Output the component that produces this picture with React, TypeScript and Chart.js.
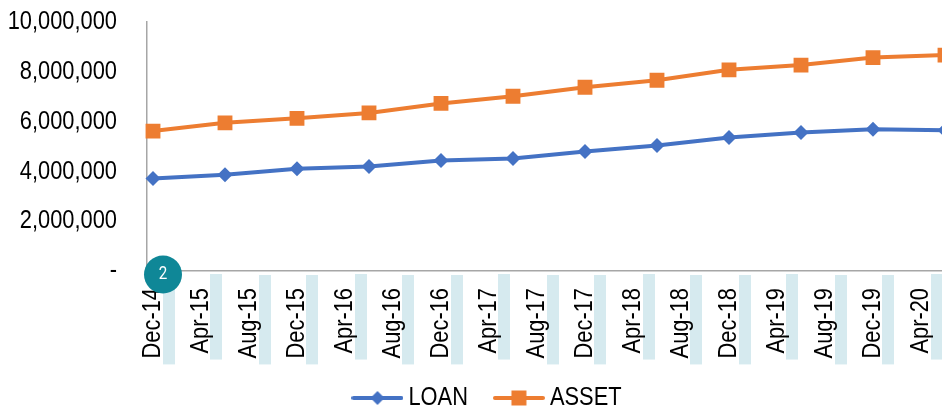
import React, { useEffect, useRef } from "react";
import { Chart, registerables } from "chart.js";

Chart.register(...registerables);

const months = [
  "Dec-14","Jan-15","Feb-15","Mar-15","Apr-15","May-15","Jun-15","Jul-15","Aug-15","Sep-15","Oct-15","Nov-15",
  "Dec-15","Jan-16","Feb-16","Mar-16","Apr-16","May-16","Jun-16","Jul-16","Aug-16","Sep-16","Oct-16","Nov-16",
  "Dec-16","Jan-17","Feb-17","Mar-17","Apr-17","May-17","Jun-17","Jul-17","Aug-17","Sep-17","Oct-17","Nov-17",
  "Dec-17","Jan-18","Feb-18","Mar-18","Apr-18","May-18","Jun-18","Jul-18","Aug-18","Sep-18","Oct-18","Nov-18",
  "Dec-18","Jan-19","Feb-19","Mar-19","Apr-19","May-19","Jun-19","Jul-19","Aug-19","Sep-19","Oct-19","Nov-19",
  "Dec-19","Jan-20","Feb-20","Mar-20","Apr-20","May-20","Jun-20",
];
const periods = ["Dec-14","Jun-15","Dec-15","Jun-16","Dec-16","Jun-17","Dec-17","Jun-18","Dec-18","Jun-19","Dec-19","Jun-20"];
const loan = [3710000,3870000,4110000,4200000,4440000,4520000,4800000,5040000,5360000,5560000,5690000,5650000];
const asset = [5620000,5950000,6130000,6350000,6730000,7020000,7380000,7660000,8080000,8270000,8570000,8670000];

const BLUE = "#4472C4";
const ORANGE = "#ED7D31";
const FONT = '"Liberation Sans", Arial, sans-serif';
const FONT_SIZE = 26;
const NARROW = 0.84;

function legendIcon(color: string, style: "diamond" | "square") {
  const c = document.createElement("canvas");
  c.width = 52;
  c.height = 18;
  const g = c.getContext("2d")!;
  g.strokeStyle = color;
  g.fillStyle = color;
  g.lineWidth = 4;
  g.lineCap = "round";
  g.beginPath();
  g.moveTo(2, 9);
  g.lineTo(50, 9);
  g.stroke();
  g.beginPath();
  if (style === "diamond") {
    g.moveTo(26, 2);
    g.lineTo(33, 9);
    g.lineTo(26, 16);
    g.lineTo(19, 9);
    g.closePath();
  } else {
    g.rect(18.5, 1.5, 15, 15);
  }
  g.fill();
  return c;
}

// The reference uses a condensed Arial: squeeze all canvas text horizontally.
const narrowTextPlugin = {
  id: "narrowText",
  beforeInit(chart: any) {
    const ctx = chart.ctx;
    const fill = ctx.fillText.bind(ctx);
    const measure = ctx.measureText.bind(ctx);
    ctx.fillText = (t: string, x: number, y: number) => {
      ctx.save();
      ctx.translate(x, y);
      ctx.scale(NARROW, 1);
      fill(t, 0, 0);
      ctx.restore();
    };
    ctx.measureText = (t: string) => ({ width: measure(t).width * NARROW });
  },
};

const highlightPlugin = {
  id: "labelHighlights",
  beforeDraw(chart: any) {
    const { ctx, scales } = chart;
    const x = scales.x;
    ctx.save();
    ctx.font = `${FONT_SIZE}px ${FONT}`;
    months.forEach((m, i) => {
      if (i % 4 !== 0) return;
      const left = x.getPixelForValue(i) + (i % 8 === 0 ? 10 : 9);
      const len = ctx.measureText(m).width;
      const top = scales.y.bottom + (m.startsWith("Apr") ? 3 : 4);
      const bottom = scales.y.bottom + 17 + len + 6;
      ctx.fillStyle = "#D6EAEF";
      ctx.fillRect(left, top, 12, bottom - top);
    });
    ctx.restore();
  },
  afterDraw(chart: any) {
    const { ctx, scales } = chart;
    const cx = scales.x.getPixelForValue(0) + 10;
    const cy = scales.y.bottom + 3.5;
    ctx.save();
    ctx.beginPath();
    ctx.arc(cx, cy, 19, 0, Math.PI * 2);
    ctx.fillStyle = "#0F8797";
    ctx.fill();
    ctx.fillStyle = "#FFFFFF";
    ctx.font = '18px Roboto, "Liberation Sans", sans-serif';
    ctx.textAlign = "center";
    ctx.textBaseline = "middle";
    ctx.fillText("2", cx, cy);
    ctx.restore();
  },
};

export default function App() {
  const ref = useRef<HTMLCanvasElement | null>(null);

  useEffect(() => {
    const icons = [legendIcon(BLUE, "diamond"), legendIcon(ORANGE, "square")];
    const chart = new Chart(ref.current!, {
      type: "line",
      data: {
        labels: months,
        datasets: [
          {
            label: "LOAN",
            data: periods.map((p, i) => ({ x: p, y: loan[i] })),
            borderColor: BLUE,
            backgroundColor: BLUE,
            borderWidth: 4,
            pointStyle: "rectRot",
            pointRadius: 7.5,
            pointBorderWidth: 0,
            tension: 0,
            spanGaps: true,
          },
          {
            label: "ASSET",
            data: periods.map((p, i) => ({ x: p, y: asset[i] })),
            borderColor: ORANGE,
            backgroundColor: ORANGE,
            borderWidth: 4,
            pointStyle: "rect",
            pointRadius: 10.5,
            pointBorderWidth: 0,
            tension: 0,
            spanGaps: true,
          },
        ],
      },
      options: {
        animation: false,
        responsive: false,
        layout: { padding: { top: 22, right: 0, left: 0, bottom: 0 } },
        plugins: {
          tooltip: { enabled: false },
          legend: {
            position: "bottom",
            labels: {
              usePointStyle: true,
              pointStyleWidth: 36,
              padding: 33,
              color: "#000000",
              font: { family: FONT, size: FONT_SIZE },
              generateLabels: (c: any) =>
                c.data.datasets.map((d: any, i: number) => ({
                  text: d.label,
                  pointStyle: icons[i],
                  datasetIndex: i,
                  fontColor: "#000000",
                  lineWidth: 0,
                })),
            },
          },
        },
        scales: {
          x: {
            type: "category",
            offset: true,
            afterFit: (s: any) => {
              s.height = 81;
              s.paddingLeft = 0;
              s.paddingRight = 30;
              s._computeLabelArea = () => undefined;
            },
            grid: { display: false, drawTicks: false },
            border: { color: "#A6A6A6", width: 1.5 },
            ticks: {
              autoSkip: false,
              minRotation: 90,
              maxRotation: 90,
              padding: 17,
              color: "#000000",
              font: { family: FONT, size: FONT_SIZE },
              callback: (_v: any, i: number) => (i % 4 === 0 ? months[i] : ""),
            },
          },
          y: {
            min: 0,
            max: 10000000,
            afterFit: (s: any) => {
              s.width = 147;
              s.paddingTop = 0;
              s.paddingBottom = 0;
            },
            grid: { display: false, drawTicks: false },
            border: { color: "#A6A6A6", width: 1.5 },
            ticks: {
              stepSize: 2000000,
              padding: 30,
              color: "#000000",
              font: { family: FONT, size: FONT_SIZE },
              callback: (v: any) => (v === 0 ? "-" : Number(v).toLocaleString("en-US")),
            },
          },
        },
      },
      plugins: [narrowTextPlugin, highlightPlugin],
    } as any);
    return () => chart.destroy();
  }, []);

  return (
    <div style={{ position: "fixed", left: 0, top: 0, width: 942, height: 410, overflow: "hidden", background: "#fff" }}>
      <canvas ref={ref} width={981} height={421} style={{ display: "block" }} />
    </div>
  );
}
